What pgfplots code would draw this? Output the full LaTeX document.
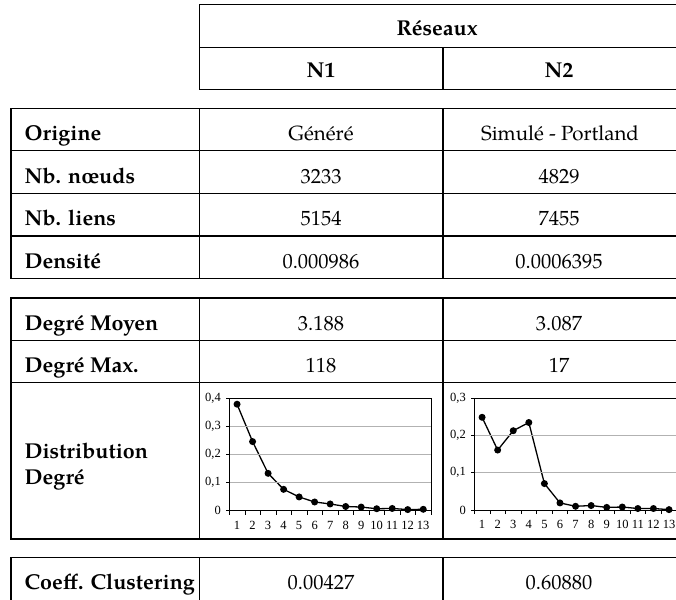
\documentclass[border=0pt]{standalone}
\usepackage{fontspec}
\setmainfont{TeX Gyre Pagella}
\newfontfamily\chartfont{Liberation Serif}
\usepackage{pgfplots}
\pgfplotsset{compat=1.18}
\newcommand\tf{\fontsize{20.5}{26}\selectfont}
\newcommand\tbf{\fontsize{21.5}{26}\selectfont\bfseries}
\pgfplotsset{degstyle/.style={
  scale only axis, anchor=south west,
  xmin=0.5, xmax=13.5, ymin=0,
  xtick={1,...,13}, minor xtick={0.5,1.5,...,13.5},
  major x tick style={draw=none},
  tick align=outside, xtick pos=bottom, ytick pos=left,
  major tick length=3pt, minor tick length=4pt,
  every tick/.style={black, line width=0.6pt},
  ymajorgrids, grid style={gray!60, line width=0.9pt},
  axis line style={black, line width=0.9pt},
  axis on top,
  tick label style={font=\chartfont\fontsize{12.5}{12.5}\selectfont},
  /pgf/number format/assume math mode=true,
  yticklabel style={/pgf/number format/.cd, fixed, precision=1, use comma, /tikz/.cd, xshift=-2pt},
  xticklabel style={yshift=-4pt},
}}
\begin{document}
\begin{tikzpicture}
\path[use as bounding box] (0pt,0pt) rectangle (676pt,-599pt);
\begin{scope}[x=1pt, y=-1pt, line width=1.2pt]
% header
\draw (199.3,4.7) rectangle (678,89.3);
\draw (199.3,47.3) -- (678,47.3);
\draw (443,47.3) -- (443,89.3);
% block 1
\draw (11,108.3) rectangle (678,278.3);
\foreach \y in {150.3,193.3,236} \draw (11,\y) -- (678,\y);
\draw (199.3,108.3) -- (199.3,278.3);
\draw (443,108.3) -- (443,278.3);
% block 2
\draw (11,298) rectangle (678,539);
\foreach \y in {340.7,382.7} \draw (11,\y) -- (678,\y);
\draw (199.3,298) -- (199.3,539);
\draw (443,298) -- (443,539);
% block 3
\draw (11,610) -- (11,557.7) -- (678,557.7);
\draw (199.3,557.7) -- (199.3,610);
\draw (443,557.7) -- (443,610);
% texts
\tikzset{lab/.style={anchor=base west, font=\tbf, inner sep=0pt},
         val/.style={anchor=base, font=\tf, inner sep=0pt},
         hd/.style={anchor=base, font=\tbf, inner sep=0pt}}
\node[hd] at (437,35.5) {Réseaux};
\node[hd] at (321,78) {N1};
\node[hd] at (559,78) {N2};
\node[lab] at (24,140.5) {Origine};
\node[lab] at (24,183) {Nb. nœuds};
\node[lab] at (24,225.5) {Nb. liens};
\node[lab] at (24,268) {Densité};
\node[lab] at (24,330) {Degré Moyen};
\node[lab] at (24,372.5) {Degré Max.};
\node[lab] at (24,458) {Distribution};
\node[lab] at (24,484) {Degré};
\node[lab] at (24,589) {Coeff. Clustering};
\node[val] at (321,140.5) {Généré};
\node[val] at (560,140.5) {Simulé - Portland};
\node[val] at (321,183) {3233};
\node[val] at (559,183) {4829};
\node[val] at (321,225.5) {5154};
\node[val] at (559,225.5) {7455};
\node[val] at (321,268) {0.000986};
\node[val] at (559,268) {0.0006395};
\node[val] at (321,330) {3.188};
\node[val] at (559,330) {3.087};
\node[val] at (321,372.5) {118};
\node[val] at (559,372.5) {17};
\node[val] at (321,589) {0.00427};
\node[val] at (559,589) {0.60880};
\end{scope}

\begin{axis}[degstyle, at={(229.3pt,-510.7pt)}, width=201.7pt, height=112.4pt,
  ymax=0.4, ytick={0,0.1,0.2,0.3,0.4}]
\addplot[black, line width=1.3pt, mark=*, mark size=2.8pt] coordinates {
(1,0.379) (2,0.246) (3,0.133) (4,0.076) (5,0.049) (6,0.031) (7,0.024)
(8,0.015) (9,0.013) (10,0.007) (11,0.008) (12,0.004) (13,0.005)};
\end{axis}

\begin{axis}[degstyle, at={(474.3pt,-510pt)}, width=202.5pt, height=111.7pt,
  ymax=0.3, ytick={0,0.1,0.2,0.3}]
\addplot[black, line width=1.3pt, mark=*, mark size=2.8pt] coordinates {
(1,0.249) (2,0.161) (3,0.213) (4,0.235) (5,0.071) (6,0.019) (7,0.010)
(8,0.012) (9,0.007) (10,0.008) (11,0.004) (12,0.004) (13,0.001)};
\end{axis}
\end{tikzpicture}
\end{document}
